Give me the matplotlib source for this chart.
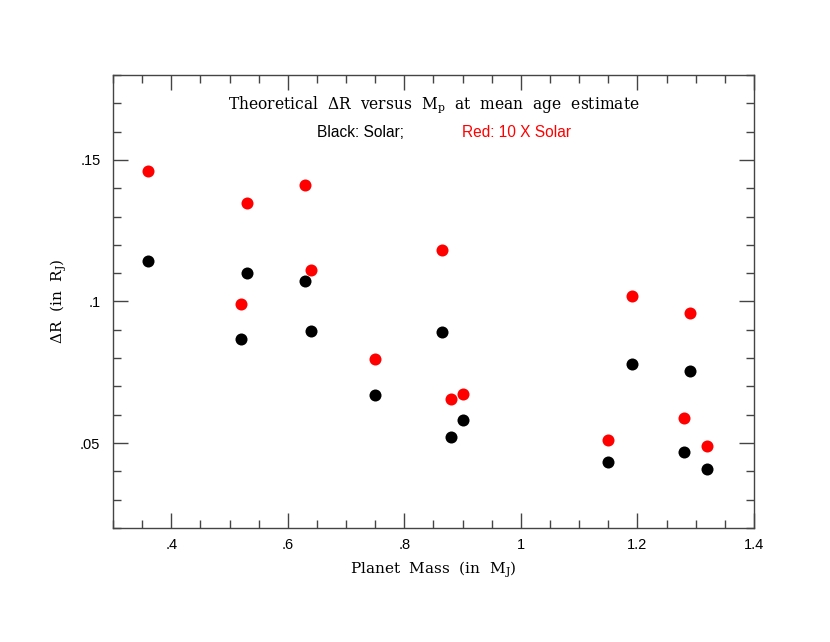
import numpy as np
import matplotlib
matplotlib.use("Agg")
import matplotlib.pyplot as plt
from matplotlib.ticker import MultipleLocator, FixedFormatter, FixedLocator

plt.rcParams['mathtext.fontset'] = 'dejavuserif'

# planet masses (M_J) and radius excess (R_J)
mass = [0.36, 0.52, 0.53, 0.63, 0.64, 0.75, 0.865, 0.88, 0.90, 1.15, 1.19, 1.28, 1.29, 1.32]
dr_solar = [0.1144, 0.0868, 0.1101, 0.1073, 0.0896, 0.0671, 0.0893, 0.0522, 0.0582,
            0.0434, 0.0780, 0.0469, 0.0755, 0.0409]
dr_10solar = [0.1461, 0.0992, 0.1348, 0.1412, 0.1112, 0.0798, 0.1182, 0.0656, 0.0674,
              0.0511, 0.1020, 0.0590, 0.0960, 0.0488]

xticks = [0.4, 0.6, 0.8, 1.0, 1.2, 1.4]
xticklabels = ['.4', '.6', '.8', '1', '1.2', '1.4']
yticks = [0.05, 0.10, 0.15]
yticklabels = ['.05', '.1', '.15']

fig = plt.figure(figsize=(8.3, 6.42), dpi=100)
ax = fig.add_axes([0.1361, 0.1776, 0.7723, 0.7056])

ax.scatter(mass, dr_solar, s=75, color='black', zorder=3, linewidths=0)
ax.scatter(mass, dr_10solar, s=75, color='red', zorder=3, linewidths=0)

ax.set_xlim(0.3, 1.4)
ax.set_ylim(0.02, 0.18)

ax.xaxis.set_major_locator(FixedLocator(xticks))
ax.xaxis.set_major_formatter(FixedFormatter(xticklabels))
ax.xaxis.set_minor_locator(MultipleLocator(0.05))
ax.yaxis.set_major_locator(FixedLocator(yticks))
ax.yaxis.set_major_formatter(FixedFormatter(yticklabels))
ax.yaxis.set_minor_locator(MultipleLocator(0.01))

ax.tick_params(which='both', direction='in', top=True, right=True, color='#444444', width=1)
ax.tick_params(which='major', length=11, labelsize=10.5)
ax.tick_params(which='minor', length=6)
ax.tick_params(axis='x', which='major', pad=7)
ax.tick_params(axis='y', which='major', pad=9)
for lab in ax.get_xticklabels() + ax.get_yticklabels():
    lab.set_family('Liberation Sans')
for sp in ax.spines.values():
    sp.set_color('#444444')
    sp.set_linewidth(1)

serif = 'DejaVu Serif'
ax.text(0.5, 0.934, r'Theoretical  $\Delta$R  versus  M$_\mathrm{p}$  at  mean  age  estimate',
        transform=ax.transAxes, ha='center', va='center', family=serif, fontsize=11.2)
ax.text(0.318, 0.874, 'Black: Solar;', transform=ax.transAxes, ha='left', va='center',
        family='Liberation Sans', fontsize=11.2, color='black')
ax.text(0.545, 0.874, 'Red: 10 X Solar', transform=ax.transAxes, ha='left', va='center',
        family='Liberation Sans', fontsize=11.2, color='red')

ax.set_xlabel(r'Planet  Mass  (in  M$_\mathrm{J}$)', family=serif, fontsize=11, labelpad=6)
ax.set_ylabel(r'$\Delta$R  (in  R$_\mathrm{J}$)', family=serif, fontsize=11, labelpad=8)

fig.savefig('out.png', dpi=100)
